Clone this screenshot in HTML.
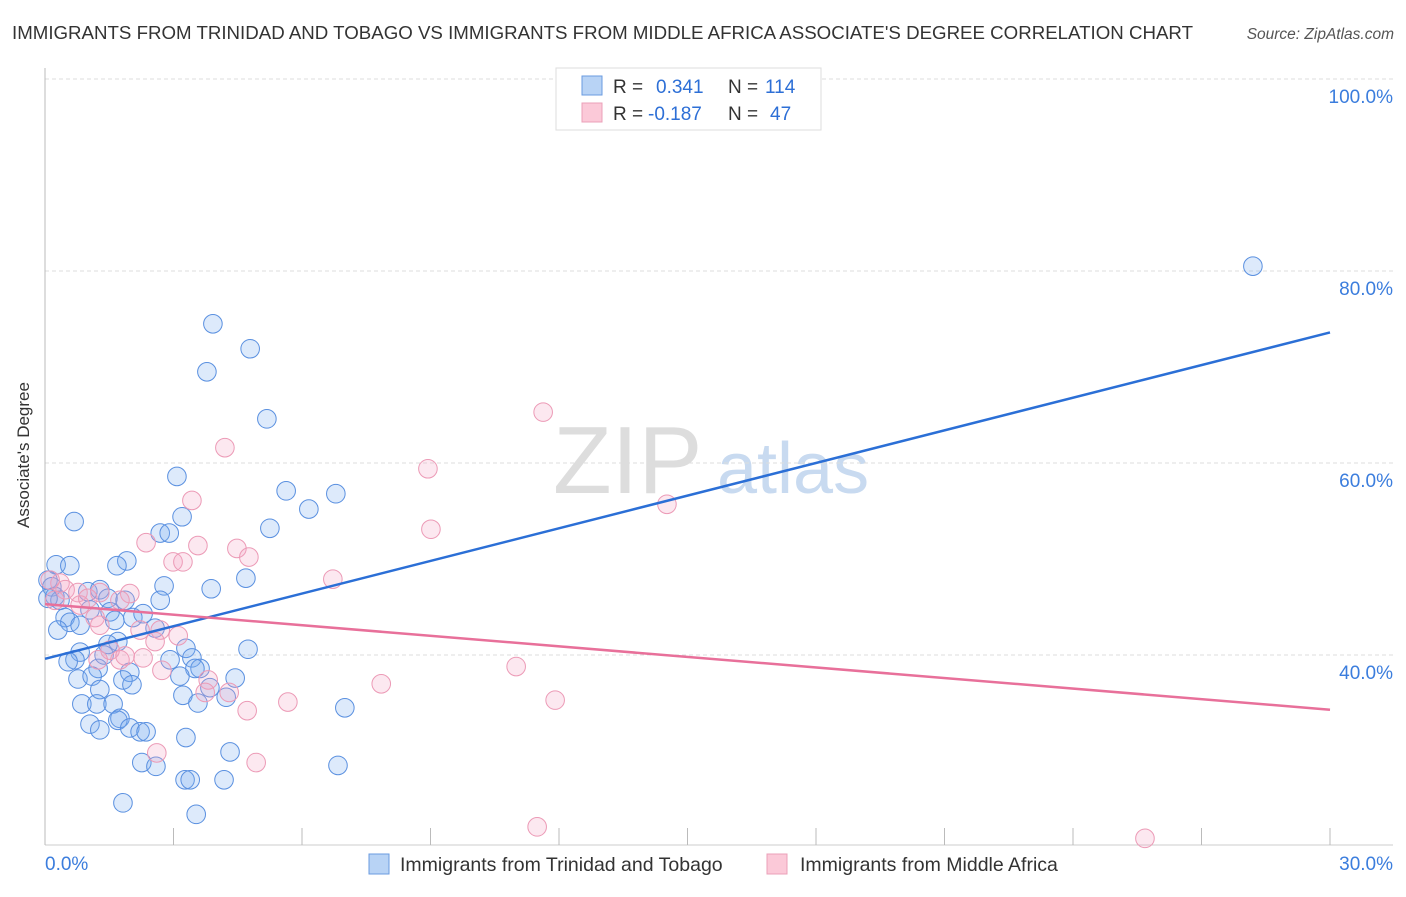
<!DOCTYPE html>
<html><head><meta charset="utf-8"><style>
body{margin:0;background:#fff;font-family:"Liberation Sans",sans-serif;}
svg text{font-family:"Liberation Sans",sans-serif;}
</style></head><body>
<svg width="1406" height="892" xmlns="http://www.w3.org/2000/svg">
<text x="12" y="39" font-size="18.5" fill="#333" textLength="1181" lengthAdjust="spacingAndGlyphs">IMMIGRANTS FROM TRINIDAD AND TOBAGO VS IMMIGRANTS FROM MIDDLE AFRICA ASSOCIATE'S DEGREE CORRELATION CHART</text>
<text x="1394" y="39" font-size="15.5" fill="#555" font-style="italic" text-anchor="end">Source: ZipAtlas.com</text>
<g>
<text x="553" y="493" font-size="96" fill="#ddd" font-family="Liberation Serif">ZIP</text>
<text x="717" y="493" font-size="72" fill="#c8daf0">atlas</text>
</g>
<g id="grid"></g>
<g id="axes"></g>
<g id="pts"></g>
<g id="trend"></g>
<text x="29" y="455" font-size="17" fill="#333" text-anchor="middle" transform="rotate(-90 29 455)">Associate's Degree</text>
<g>
<rect x="556" y="68" width="265" height="62" fill="#fff" stroke="#ddd"/>
<rect x="582" y="76" width="20" height="19" fill="#b8d3f5" stroke="#6a9be0"/>
<rect x="582" y="103" width="20" height="19" fill="#fbc9d8" stroke="#eba0b8"/>
<text x="613" y="93" font-size="19" fill="#333">R = <tspan fill="#2d6fd6" x="656">0.341</tspan><tspan x="728" fill="#333">N = </tspan><tspan fill="#2d6fd6" x="765">114</tspan></text>
<text x="613" y="120" font-size="19" fill="#333">R = <tspan fill="#2d6fd6" x="648">-0.187</tspan><tspan x="728" fill="#333">N = </tspan><tspan fill="#2d6fd6" x="770">47</tspan></text>
</g>
<g>
<rect x="369" y="854" width="20" height="20" fill="#b8d3f5" stroke="#6a9be0"/>
<text x="400" y="871" font-size="19.5" fill="#333">Immigrants from Trinidad and Tobago</text>
<rect x="767" y="854" width="20" height="20" fill="#fbc9d8" stroke="#eba0b8"/>
<text x="800" y="871" font-size="19.5" fill="#333">Immigrants from Middle Africa</text>
</g>
</svg>
<script>
const blueX=[28.2,3.92,4.79,3.78,5.18,3.08,5.63,6.79,6.16,3.2,0.68,5.25,2.69,2.9,1.91,0.26,0.58,1.68,4.69,2.78,3.88,0.07,2.69,0.16,0.23,0.35,0.07,1.0,1.28,1.47,1.87,1.52,1.05,0.47,0.58,0.82,0.3,1.63,2.05,2.29,2.57,1.7,1.47,4.74,3.29,0.82,0.7,0.54,1.24,1.38,2.92,3.43,1.98,3.62,3.5,4.44,1.82,2.03,3.15,0.77,1.1,1.28,3.85,3.22,4.23,0.86,1.21,1.59,3.57,7.0,1.75,1.05,1.7,1.98,2.22,2.36,1.28,3.29,4.32,2.26,2.59,6.84,3.27,3.39,4.18,1.82,3.53];
const blueY=[80.5,74.5,71.9,69.5,64.6,58.6,57.1,56.8,55.2,54.4,53.9,53.2,52.7,52.7,49.8,49.4,49.3,49.3,48.0,47.2,46.9,47.8,45.7,47.1,46.1,45.7,45.9,46.6,46.8,45.9,45.7,44.5,44.7,43.9,43.4,43.1,42.6,43.6,43.9,44.3,42.8,41.4,41.1,40.6,40.7,40.3,39.5,39.3,38.6,40.0,39.5,39.7,38.2,38.6,38.6,37.6,37.4,36.9,37.8,37.5,37.8,36.4,36.6,35.8,35.6,34.9,34.9,34.9,35.0,34.5,33.4,32.8,33.2,32.4,32.0,32.0,32.2,31.4,29.9,28.8,28.4,28.5,27.0,27.0,27.0,24.6,23.4];
const pinkX=[11.63,4.2,8.94,3.43,9.01,14.52,2.36,3.57,4.48,4.76,2.99,3.22,6.72,0.35,0.12,0.47,0.77,1.98,1.28,0.23,0.82,1.17,1.28,2.69,2.22,3.11,2.57,1.52,1.24,1.75,1.87,2.29,2.73,11.0,7.85,3.81,4.3,3.74,5.67,11.91,4.72,2.61,4.93,11.49,25.68,1.0,1.75];
const pinkY=[65.3,61.6,59.4,56.1,53.1,55.7,51.7,51.4,51.1,50.2,49.7,49.7,47.9,47.5,47.8,46.8,46.5,46.4,46.5,45.7,45.2,43.9,43.1,42.6,42.6,42.0,41.4,40.5,39.5,39.5,39.9,39.7,38.4,38.8,37.0,37.4,36.1,36.1,35.1,35.3,34.2,29.8,28.8,22.1,20.9,45.9,45.7];
const blueTrend=[39.6,73.6];
const pinkTrend=[45.3,34.3];
const yTicks=[100,80,60,40];
const xTickVals=[0,3,6,9,12,15,18,21,24,27,30];
const NS='http://www.w3.org/2000/svg';
const sx=v=>45+v*1285/30;
const sy=v=>1039-v*9.6;
function mk(tag,attrs,parent){const e=document.createElementNS(NS,tag);for(const k in attrs)e.setAttribute(k,attrs[k]);document.getElementById(parent).appendChild(e);return e;}
yTicks.forEach(t=>{
 const l=mk('line',{x1:45,x2:1393,y1:sy(t),y2:sy(t),stroke:'#ddd','stroke-dasharray':'4,3'},'grid');
 
 
 const tx=mk('text',{x:1393,y:sy(t)+24,'font-size':19,fill:'#3b7ddd','text-anchor':'end'},'grid');
 tx.textContent=t.toFixed(1)+'%';
 
 
});
const ax=mk('line',{x1:45,x2:45,y1:68,y2:845,stroke:'#bbb'},'axes');


const bx=mk('line',{x1:45,x2:1393,y1:845,y2:845,stroke:'#ccc'},'axes');


xTickVals.forEach(t=>{
 const l=mk('line',{x1:sx(t),x2:sx(t),y1:828,y2:845,stroke:'#bbb'},'axes');
 
 
});
const x0=mk('text',{x:45,y:870,'font-size':19,fill:'#3b7ddd'},'axes');x0.textContent='0.0%';


const x1=mk('text',{x:1393,y:870,'font-size':19,fill:'#3b7ddd','text-anchor':'end'},'axes');x1.textContent='30.0%';


blueX.forEach((v,i)=>{
 const c=mk('circle',{cx:sx(v),cy:sy(blueY[i]),r:9.3,fill:'rgba(120,170,240,0.25)',stroke:'#5a90e0','stroke-width':1},'pts');
 
 
});
pinkX.forEach((v,i)=>{
 const c=mk('circle',{cx:sx(v),cy:sy(pinkY[i]),r:9.3,fill:'rgba(245,165,195,0.25)',stroke:'#ec9ab6','stroke-width':1},'pts');
 
 
});
const tb=mk('line',{x1:sx(0),y1:sy(blueTrend[0]),x2:sx(30),y2:sy(blueTrend[1]),stroke:'#2b6fd6','stroke-width':2.5},'trend');


const tp=mk('line',{x1:sx(0),y1:sy(pinkTrend[0]),x2:sx(30),y2:sy(pinkTrend[1]),stroke:'#e8709a','stroke-width':2.5},'trend');


</script>
</body></html>
